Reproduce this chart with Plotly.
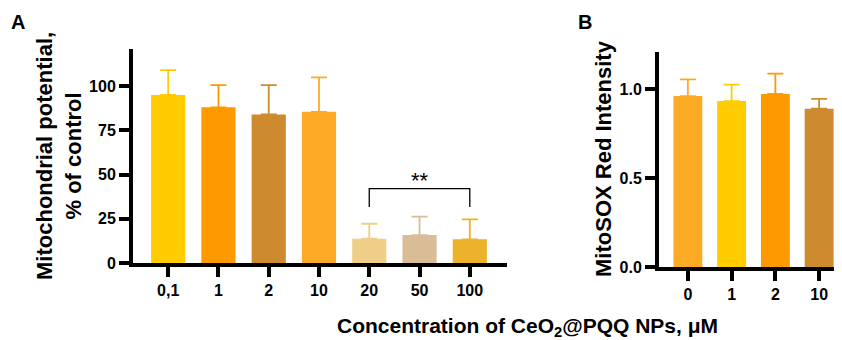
import plotly.graph_objects as go

# Panel A data
a_cats = ["0,1", "1", "2", "10", "20", "50", "100"]
a_vals = [95, 88, 84, 85.5, 13.7, 15.8, 13.4]
a_err = [14, 12.6, 16.6, 19.5, 8.5, 10.4, 11.3]
a_colors = ["#FFCC00", "#FF9900", "#CE8A2E", "#FDAB26", "#EFCF87", "#D9BD97", "#EBB22A"]

# Panel B data
b_cats = ["0", "1", "2", "10"]
b_vals = [0.962, 0.934, 0.974, 0.891]
b_err = [0.094, 0.092, 0.114, 0.055]
b_colors = ["#FDAB26", "#FFCC00", "#FF9900", "#CE8A2E"]

OFF = 8  # page body margin
W, H = 842 - OFF, 340 - OFF
FONT = "Liberation Sans, Arial, sans-serif"

fig = go.Figure()

for c, v, e, col in zip(a_cats, a_vals, a_err, a_colors):
    fig.add_trace(go.Bar(
        x=[c], y=[v], marker=dict(color=col, line=dict(width=0)), width=0.68,
        error_y=dict(type="data", array=[e], arrayminus=[0], symmetric=False,
                     color=col, thickness=1.8, width=8),
        xaxis="x", yaxis="y", showlegend=False))

for c, v, e, col in zip(b_cats, b_vals, b_err, b_colors):
    fig.add_trace(go.Bar(
        x=[c], y=[v], marker=dict(color=col, line=dict(width=0)), width=0.66,
        error_y=dict(type="data", array=[e], arrayminus=[0], symmetric=False,
                     color=col, thickness=1.8, width=8),
        xaxis="x2", yaxis="y2", showlegend=False))

def px(x):
    return (x - OFF) / W

def py(y):
    return 1 - (y - OFF) / H

axis_common = dict(showline=True, linecolor="black", linewidth=4, ticks="outside",
                   ticklen=10, tickwidth=4, tickcolor="black", showgrid=False,
                   zeroline=False, automargin=False,
                   tickfont=dict(family=FONT, size=16, color="black", weight="bold"))

fig.update_layout(
    width=W, height=H, margin=dict(l=0, r=0, t=0, b=0, autoexpand=False),
    plot_bgcolor="white", paper_bgcolor="white", barmode="overlay",
    xaxis=dict(domain=[px(133), px(507)], anchor="y", type="category",
               range=[-0.7, 6.74], categoryorder="array", categoryarray=a_cats, **axis_common),
    yaxis=dict(domain=[py(263), py(49)], anchor="x", range=[0, 121],
               tickvals=[0, 25, 50, 75, 100], **axis_common),
    xaxis2=dict(domain=[px(659), px(834)], anchor="y2", type="category",
                range=[-0.66, 3.34], categoryorder="array", categoryarray=b_cats, **axis_common),
    yaxis2=dict(domain=[py(267), py(52)], anchor="x2", range=[0, 1.21],
                tickvals=[0, 0.5, 1.0], tickformat=".1f", **axis_common),
)

# significance bracket
fig.add_shape(type="path", xref="x", yref="y",
              path="M 4,31.6 L 4,42 L 6,42 L 6,31.6",
              line=dict(color="black", width=1.3))
fig.add_annotation(x=5, y=42, xref="x", yref="y", text="**", showarrow=False,
                   yanchor="middle", yshift=8, font=dict(family=FONT, size=22, color="black"))

# titles
fig.add_annotation(x=px(59), y=py(156), xref="paper", yref="paper",
                   text="Mitochondrial potential,<br>% of control", textangle=-90,
                   showarrow=False, xanchor="center", yanchor="middle",
                   font=dict(family=FONT, size=22, color="black", weight="bold"))
fig.add_annotation(x=px(603), y=py(159), xref="paper", yref="paper",
                   text="MitoSOX Red Intensity", textangle=-90,
                   showarrow=False, xanchor="center", yanchor="middle",
                   font=dict(family=FONT, size=22, color="black", weight="bold"))
fig.add_annotation(x=px(527), y=py(327), xref="paper", yref="paper",
                   text="Concentration of CeO<sub>2</sub>@PQQ NPs, μM",
                   showarrow=False, xanchor="center", yanchor="middle",
                   font=dict(family=FONT, size=21, color="black", weight="bold"))
fig.add_annotation(x=px(18), y=py(22), xref="paper", yref="paper", text="A",
                   showarrow=False, xanchor="center", yanchor="middle",
                   font=dict(family=FONT, size=20, color="black", weight="bold"))
fig.add_annotation(x=px(585), y=py(22), xref="paper", yref="paper", text="B",
                   showarrow=False, xanchor="center", yanchor="middle",
                   font=dict(family=FONT, size=20, color="black", weight="bold"))

fig.write_html("out.html")
